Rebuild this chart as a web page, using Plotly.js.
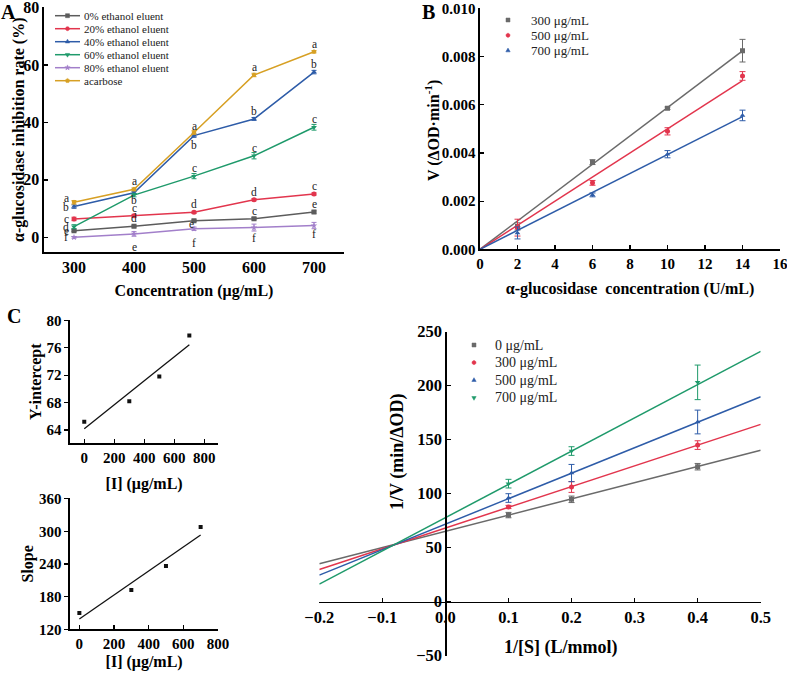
<!DOCTYPE html>
<html>
<head>
<meta charset="utf-8">
<script src="https://cdn.plot.ly/plotly-3.0.1.min.js"></script>
<style>
  html, body { margin: 0; padding: 0; background: #fff; }
  #chart { width: 787px; height: 674px; }
</style>
</head>
<body>
<div id="chart"></div>
<script>
// ---------- Panel A: inhibition rate of each fraction ----------
const concA = [300, 400, 500, 600, 700];
const namesA = ['0% ethanol eluent', '20% ethanol eluent', '40% ethanol eluent',
                '60% ethanol eluent', '80% ethanol eluent', 'acarbose'];
const eth0  = [2.3, 3.9, 5.8, 6.5, 8.8];
const eth20 = [6.4, 7.5, 8.7, 13.1, 15.1];
const eth40 = [10.7, 15.5, 35.4, 41.2, 57.5];
const eth60 = [3.7, 14.7, 21.3, 28.4, 38.3];
const eth80 = [0.0, 1.2, 3.0, 3.4, 4.1];
const acarbose = [12.2, 16.7, 36.5, 56.5, 64.6];
const err0  = [0.3, 0.3, 0.3, 0.4, 0.4];
const err20 = [0.6, 0.5, 0.4, 0.4, 0.4];
const err40 = [0.6, 0.5, 0.6, 0.5, 0.6];
const err60 = [0.7, 0.6, 0.9, 1.1, 1.0];
const err80 = [0.3, 0.8, 0.6, 1.2, 1.1];
const errAca = [0.6, 0.5, 0.6, 0.6, 0.4];
// significance letters per point
const sig0  = ['e', 'd', 'e', 'c', 'e'];
const sig20 = ['c', 'c', 'd', 'd', 'c'];
const sig40 = ['b', '',  'b', 'b', 'b'];
const sig60 = ['d', 'b', 'c', 'c', 'c'];
const sig80 = ['f', 'e', 'f', 'f', 'f'];
const sigAca = ['a', 'a', 'a', 'a', 'a'];

// ---------- Panel B: velocity vs enzyme concentration ----------
const enzB = [2, 6, 10, 14];
const namesB = ['300 μg/mL', '500 μg/mL', '700 μg/mL'];
const v300 = [0.00095, 0.00362, 0.00586, 0.00825];
const v500 = [0.00090, 0.00276, 0.00490, 0.00720];
const v700 = [0.00068, 0.00226, 0.00395, 0.00556];
const ev300 = [0.00015, 0.00010, 0.00005, 0.00047];
const ev500 = [0.00035, 0.00010, 0.00015, 0.00018];
const ev700 = [0.00025, 0.00008, 0.00015, 0.00022];

// ---------- Panel C: Lineweaver-Burk plot and secondary plots ----------
const invS = [0.1, 0.2, 0.4];
const invSSpan = [-0.2, 0.5];
const inhibC = [0, 300, 500, 700];
const namesC = ['0 μg/mL', '300 μg/mL', '500 μg/mL', '700 μg/mL'];
const invV0   = [80.2, 94.8, 125.0];
const invV300 = [87.7, 106.2, 145.0];
const invV500 = [96.0, 119.1, 166.4];
const invV700 = [109.3, 139.5, 203.1];
const eiv0   = [2.5, 3.0, 3.0];
const eiv300 = [1.5, 5.0, 4.0];
const eiv500 = [4.0, 8.0, 11.0];
const eiv700 = [4.0, 4.0, 16.0];
const lbSlope = [150, 192, 236, 308];
const lbIntercept = [65.2, 68.2, 71.8, 77.8];

// ---------- helpers ----------
const W = 787, H = 674;
const px = v => v / W;          // pixel column -> paper x
const py = v => 1 - v / H;      // pixel row -> paper y
const SERIF = 'Liberation Serif';
const tickFont = s => ({family: SERIF, size: s, color: '#000', weight: 'bold'});
const titleFont = s => ({family: SERIF, size: s, color: '#000', weight: 'bold'});

function linFit(xs, ys) {
  const n = xs.length;
  const mx = xs.reduce((a, b) => a + b, 0) / n;
  const my = ys.reduce((a, b) => a + b, 0) / n;
  let sxy = 0, sxx = 0;
  for (let i = 0; i < n; i++) { sxy += (xs[i] - mx) * (ys[i] - my); sxx += (xs[i] - mx) ** 2; }
  const k = sxy / sxx;
  return {k: k, b: my - k * mx};
}
function originFit(xs, ys) {
  let sxy = 0, sxx = 0;
  for (let i = 0; i < xs.length; i++) { sxy += xs[i] * ys[i]; sxx += xs[i] * xs[i]; }
  return sxy / sxx;
}

const traces = [];
const annotations = [];
const shapes = [];

// compact legend: marker glyphs as small paper-space paths, labels as text
function glyphPoints(cx, cy, r, sym) {
  const pts = [];
  const ring = (n, rad, rot) => { for (let k = 0; k < n; k++) {
    const a = rot + 2 * Math.PI * k / n; pts.push([cx + rad * Math.cos(a), cy + rad * Math.sin(a)]); } };
  if (sym === 'square') { pts.push([cx - r, cy - r], [cx + r, cy - r], [cx + r, cy + r], [cx - r, cy + r]); }
  else if (sym === 'circle') ring(16, r, 0);
  else if (sym === 'triangle-up') ring(3, r * 1.25, -Math.PI / 2);
  else if (sym === 'triangle-down') ring(3, r * 1.25, Math.PI / 2);
  else if (sym === 'pentagon') ring(5, r * 1.15, -Math.PI / 2);
  else if (sym === 'star') {
    for (let k = 0; k < 10; k++) {
      const a = -Math.PI / 2 + Math.PI * k / 5, rad = k % 2 ? r * 0.55 : r * 1.4;
      pts.push([cx + rad * Math.cos(a), cy + rad * Math.sin(a)]);
    }
  }
  return pts;
}
function glyphShape(cx, cy, r, sym, color) {
  const pts = glyphPoints(cx, cy, r, sym);
  const path = 'M' + pts.map(p => px(p[0]).toFixed(6) + ',' + py(p[1]).toFixed(6)).join('L') + 'Z';
  return {type: 'path', xref: 'paper', yref: 'paper', path: path,
          fillcolor: color, line: {color: color, width: 0.5}, layer: 'above'};
}
function legendBlock(names, series, opt) {
  names.forEach((nm, i) => {
    const y = opt.y0 + opt.step * i;
    if (opt.line) {
      shapes.push({type: 'line', xref: 'paper', yref: 'paper', x0: px(opt.line[0]), x1: px(opt.line[1]),
                   y0: py(y), y1: py(y), line: {color: series[i].color, width: 1.5}});
    }
    shapes.push(glyphShape(opt.mx, y, opt.r, series[i].symbol, series[i].color));
    annotations.push({xref: 'paper', yref: 'paper', x: px(opt.tx), y: py(y), text: nm,
      showarrow: false, xanchor: 'left', yanchor: 'middle',
      font: {family: SERIF, size: opt.size, color: '#222'}});
  });
}

// ---------- Panel A traces ----------
const seriesA = [
  {y: eth0,  e: err0,  sig: sig0,  color: '#5c5c5c', symbol: 'square'},
  {y: eth20, e: err20, sig: sig20, color: '#e2354d', symbol: 'circle'},
  {y: eth40, e: err40, sig: sig40, color: '#2e5ca8', symbol: 'triangle-up'},
  {y: eth60, e: err60, sig: sig60, color: '#1f9a6b', symbol: 'triangle-down'},
  {y: eth80, e: err80, sig: sig80, color: '#a27fca', symbol: 'star'},
  {y: acarbose, e: errAca, sig: sigAca, color: '#d7a024', symbol: 'pentagon'}
];
// label offsets (x, y in px) for each letter
const placeA = [
  [[-8, 0], [0, 8], [-3, -3], [0, 8], [0, 8]],
  [[-8, 0], [0, 8], [0, 8], [0, 8], [0, 8]],
  [[-8, 0], [0, 8], [0, -9], [0, 8], [0, 8]],
  [[-8, 0], [0, -5], [0, 8], [0, 8], [0, 8]],
  [[-8, 0], [0, -13], [0, -14], [0, -10], [0, -8]],
  [[-8, 4], [0, 8], [0, 6], [0, 8], [0, 8]]
];
seriesA.forEach((s, i) => {
  traces.push({
    type: 'scatter', mode: 'lines+markers', name: namesA[i],
    x: concA, y: s.y, xaxis: 'x', yaxis: 'y', showlegend: false,
    line: {color: s.color, width: 1.5},
    marker: {color: s.color, symbol: s.symbol, size: 5},
    error_y: {type: 'data', array: s.e, color: s.color, thickness: 1, width: 2.5}
  });
  s.sig.forEach((t, j) => {
    if (!t) return;
    annotations.push({
      xref: 'x', yref: 'y', x: concA[j], y: s.y[j], text: t, showarrow: false,
      xshift: placeA[i][j][0], yshift: placeA[i][j][1],
      font: {family: SERIF, size: 11.5, color: '#222'}
    });
  });
});
legendBlock(namesA, seriesA, {y0: 15.7, step: 13, line: [55, 80], mx: 67.5, r: 2, tx: 82, size: 11});

// ---------- Panel B traces ----------
const seriesB = [
  {y: v300, e: ev300, color: '#6a6a6a', symbol: 'square'},
  {y: v500, e: ev500, color: '#e2354d', symbol: 'circle'},
  {y: v700, e: ev700, color: '#2e5ca8', symbol: 'triangle-up'}
];
const enzSpan = [0, Math.max(...enzB)];
seriesB.forEach((s, i) => {
  const k = originFit(enzB, s.y);
  traces.push({
    type: 'scatter', mode: 'lines', x: enzSpan, y: enzSpan.map(v => k * v),
    xaxis: 'x2', yaxis: 'y2', showlegend: false, hoverinfo: 'skip',
    line: {color: s.color, width: 1.5}
  });
  traces.push({
    type: 'scatter', mode: 'markers', name: namesB[i],
    x: enzB, y: s.y, xaxis: 'x2', yaxis: 'y2', showlegend: false,
    marker: {color: s.color, symbol: s.symbol, size: 5},
    error_y: {type: 'data', array: s.e, color: s.color, thickness: 1, width: 3}
  });
});
legendBlock(namesB, seriesB, {y0: 20, step: 15.3, mx: 508, r: 2, tx: 529, size: 13});

// ---------- Panel C secondary plots ----------
[[lbIntercept, 'x3', 'y3'], [lbSlope, 'x4', 'y4']].forEach(([vals, xa, ya]) => {
  const f = linFit(inhibC, vals);
  const span = [Math.min(...inhibC), Math.max(...inhibC)];
  traces.push({
    type: 'scatter', mode: 'lines', x: span, y: span.map(v => f.k * v + f.b),
    xaxis: xa, yaxis: ya, showlegend: false, hoverinfo: 'skip',
    line: {color: '#111', width: 1.3}
  });
  traces.push({
    type: 'scatter', mode: 'markers', x: inhibC, y: vals,
    xaxis: xa, yaxis: ya, showlegend: false,
    marker: {color: '#111', symbol: 'square', size: 4}
  });
});

// ---------- Panel C Lineweaver-Burk ----------
const seriesC = [
  {y: invV0,   e: eiv0,   color: '#6a6a6a', symbol: 'square'},
  {y: invV300, e: eiv300, color: '#e2354d', symbol: 'circle'},
  {y: invV500, e: eiv500, color: '#2e5ca8', symbol: 'triangle-up'},
  {y: invV700, e: eiv700, color: '#1f9a6b', symbol: 'triangle-down'}
];
seriesC.forEach((s, i) => {
  traces.push({
    type: 'scatter', mode: 'lines', x: invSSpan,
    y: invSSpan.map(v => lbIntercept[i] + lbSlope[i] * v),
    xaxis: 'x5', yaxis: 'y5', showlegend: false, hoverinfo: 'skip',
    line: {color: s.color, width: 1.5}
  });
  traces.push({
    type: 'scatter', mode: 'markers', name: namesC[i],
    x: invS, y: s.y, xaxis: 'x5', yaxis: 'y5', showlegend: false,
    marker: {color: s.color, symbol: s.symbol, size: 5},
    error_y: {type: 'data', array: s.e, color: s.color, thickness: 1, width: 3}
  });
});
legendBlock(namesC, seriesC, {y0: 345, step: 17.6, mx: 474, r: 2, tx: 493, size: 14});

// ---------- titles and panel letters ----------
[['A', 8, 12], ['B', 428, 11.5], ['C', 14, 316]].forEach(([t, x, y]) => {
  annotations.push({xref: 'paper', yref: 'paper', x: px(x), y: py(y), text: t,
    showarrow: false, xanchor: 'center', yanchor: 'middle',
    font: {family: SERIF, size: 20, color: '#000', weight: 'bold'}});
});
// free-standing axis titles
[['α-glucosidase inhibition rate (%)', 19, 130, -90, 16],
 ['V (ΔOD·min<sup>-1</sup>)', 432, 131, -90, 16],
 ['1/V (min/ΔOD)', 398, 452, -90, 18],
 ['1/[S] (L/mmol)', 560, 647, 0, 18]].forEach(([t, x, y, ang, s]) => {
  annotations.push({xref: 'paper', yref: 'paper', x: px(x), y: py(y), text: t,
    showarrow: false, xanchor: 'center', yanchor: 'middle', textangle: ang,
    font: titleFont(s)});
});

const axBase = {
  showgrid: false, zeroline: false, showline: true, linecolor: '#000', linewidth: 1.6,
  ticks: 'inside', ticklen: 4, tickwidth: 1.3, tickcolor: '#000',
  ticklabeloverflow: 'allow'
};

const layout = {
  width: W, height: H,
  margin: {l: 0, r: 0, t: 0, b: 0},
  paper_bgcolor: '#fff', plot_bgcolor: 'rgba(0,0,0,0)',
  showlegend: false,
  font: {family: SERIF, color: '#000'},
  // Panel A
  xaxis: Object.assign({}, axBase, {
    domain: [px(44), px(344)], range: [250, 750], anchor: 'y',
    tickvals: concA, ticks: '', tickfont: tickFont(16),
    title: {text: 'Concentration (μg/mL)', font: titleFont(16), standoff: 10}
  }),
  yaxis: Object.assign({}, axBase, {
    domain: [py(252), py(7.3)], range: [-5.1, 80.05], anchor: 'x',
    tickvals: [0, 20, 40, 60, 80], tickfont: tickFont(16)
  }),
  // Panel B
  xaxis2: Object.assign({}, axBase, {
    domain: [px(480), px(780)], range: [0, 16], anchor: 'y2',
    dtick: 2, tick0: 0, tickfont: tickFont(15),
    title: {text: 'α-glucosidase  concentration (U/mL)', font: titleFont(16), standoff: 12}
  }),
  yaxis2: Object.assign({}, axBase, {
    domain: [py(249.3), py(8.3)], range: [0, 0.01001], anchor: 'x2',
    dtick: 0.002, tick0: 0, tickformat: '.3f', tickfont: tickFont(15)
  }),
  // Panel C, intercept replot
  xaxis3: Object.assign({}, axBase, {
    domain: [px(70), px(218.3)], range: [-95, 893], anchor: 'y3',
    tickvals: [0, 200, 400, 600, 800], tickfont: tickFont(15),
    title: {text: '[I] (μg/mL)', font: titleFont(16), standoff: 13}
  }),
  yaxis3: Object.assign({}, axBase, {
    domain: [py(443.3), py(320)], range: [62.06, 80.05], anchor: 'x3',
    tickvals: [64, 68, 72, 76, 80], ticks: 'outside', tickfont: tickFont(15),
    title: {text: 'Y-intercept', font: titleFont(16), standoff: 1}
  }),
  // Panel C, slope replot
  xaxis4: Object.assign({}, axBase, {
    domain: [px(70), px(218.3)], range: [-54, 802], anchor: 'y4',
    tickvals: [0, 200, 400, 600, 800], tickfont: tickFont(15),
    title: {text: '[I] (μg/mL)', font: titleFont(16), standoff: 5}
  }),
  yaxis4: Object.assign({}, axBase, {
    domain: [py(629.3), py(498.3)], range: [120, 360.5], anchor: 'x4',
    tickvals: [120, 180, 240, 300, 360], ticks: 'outside', tickfont: tickFont(15),
    title: {text: 'Slope', font: titleFont(16), standoff: 1}
  }),
  // Panel C, double-reciprocal plot with axes crossing at the origin
  xaxis5: Object.assign({}, axBase, {
    domain: [px(319.3), px(760.7)], range: [-0.2, 0.5], anchor: 'free',
    position: py(601.7), dtick: 0.1, tick0: 0, tickformat: '.1f', tickfont: tickFont(16.5)
  }),
  yaxis5: Object.assign({}, axBase, {
    domain: [py(655.7), py(331.7)], range: [-50, 250], anchor: 'free',
    position: px(445.4), dtick: 50, tick0: 0, tickfont: tickFont(16.5)
  }),
  shapes: shapes,
  annotations: annotations
};

Plotly.newPlot('chart', traces, layout, {staticPlot: true, displayModeBar: false});
</script>
</body>
</html>
